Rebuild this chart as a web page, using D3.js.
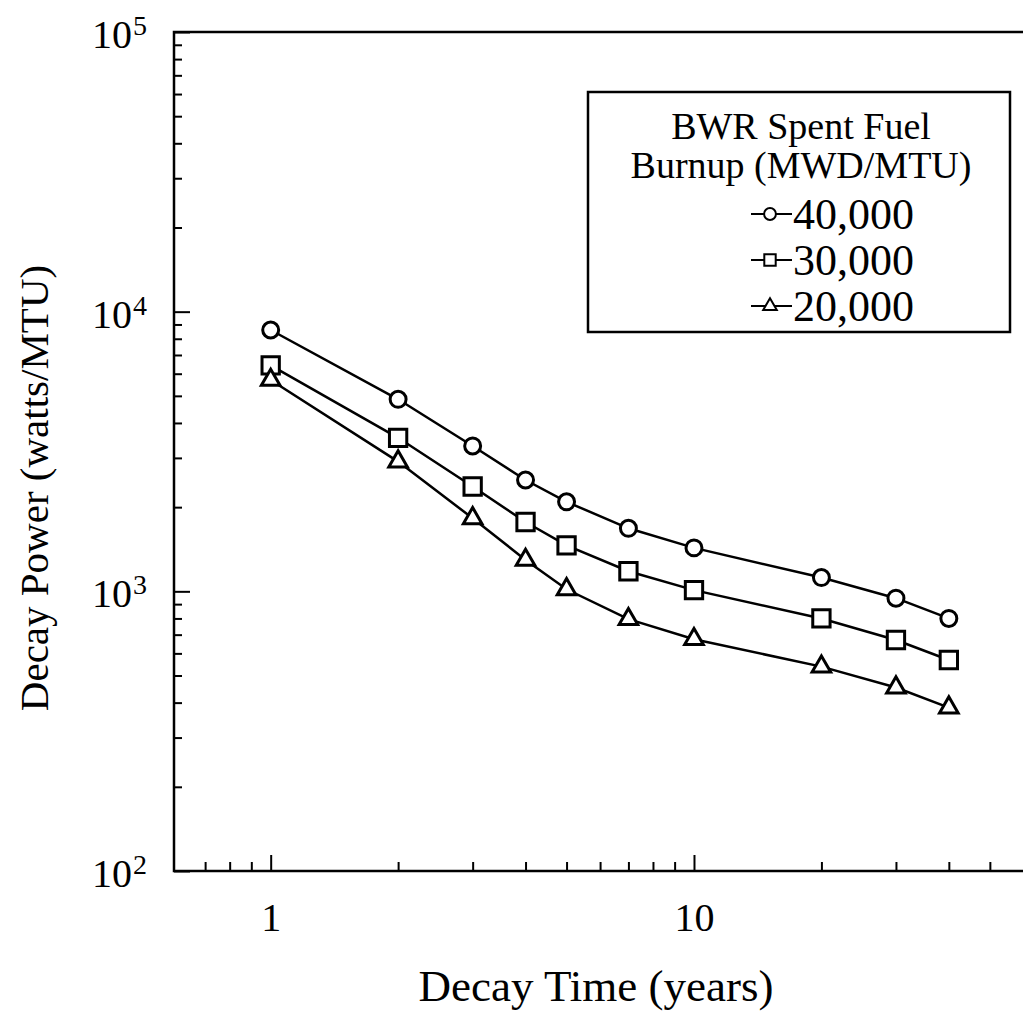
<!DOCTYPE html>
<html>
<head>
<meta charset="utf-8">
<script src="https://cdn.jsdelivr.net/npm/d3@7"></script>
<style>
  body { margin: 0; background: #fff; }
  svg { display: block; font-family: "Liberation Serif", "Times New Roman", serif; }
</style>
</head>
<body>
<svg id="chart" width="1023" height="1015"></svg>
<script>
// decay time (years)
const years = [1, 2, 3, 4, 5, 7, 10, 20, 30, 40];
// decay power (watts/MTU) per burnup level
const burnup40k = [8600, 4860, 3310, 2500, 2090, 1680, 1430, 1120, 945, 800];
const burnup30k = [6430, 3540, 2370, 1770, 1460, 1180, 1010, 800, 670, 568];
const burnup20k = [5700, 2910, 1825, 1295, 1017, 795, 674, 538, 453, 384];
const seriesNames = ['40,000', '30,000', '20,000'];

const xMajorTicks = [1, 10];
const xMinorTicks = [0.7, 0.8, 0.9, 2, 3, 4, 5, 6, 7, 8, 9, 20, 30, 40, 50];
const yMajorTicks = [100, 1000, 10000, 100000];
const yExponents = ['2', '3', '4', '5'];
const yMinorTicks = [200, 300, 400, 500, 600, 700, 800, 900,
  2000, 3000, 4000, 5000, 6000, 7000, 8000, 9000,
  20000, 30000, 40000, 50000, 60000, 70000, 80000, 90000];

const series = [
  {name: seriesNames[0], values: burnup40k, shape: d3.symbolCircle, size: 200, legendSize: 110},
  {name: seriesNames[1], values: burnup30k, shape: d3.symbolSquare, size: 300, legendSize: 130},
  {name: seriesNames[2], values: burnup20k, shape: d3.symbolTriangle, size: 150, legendSize: 80}
];

const svg = d3.select('#chart');
const margin = {top: 32, left: 174, bottom: 871, right: 1030};

const x = d3.scaleLog().domain([0.591, 62.2]).range([margin.left, margin.right]);
const y = d3.scaleLog().domain([100, 100000]).range([margin.bottom, margin.top]);

// frame (right side runs off the page like in the scan)
svg.append('rect')
  .attr('x', margin.left).attr('y', margin.top)
  .attr('width', margin.right - margin.left)
  .attr('height', margin.bottom - margin.top)
  .attr('fill', 'none').attr('stroke', '#000').attr('stroke-width', 2.5);

// x axis ticks, pointing inward
const xAxisG = svg.append('g').attr('transform', `translate(0,${margin.bottom})`);
xAxisG.append('g')
  .call(d3.axisBottom(x).tickValues(xMinorTicks).tickSize(-9).tickFormat(''))
  .call(g => g.select('.domain').remove());
xAxisG.append('g')
  .call(d3.axisBottom(x).tickValues(xMajorTicks).tickSize(-16).tickPadding(0).tickFormat(d3.format('d')))
  .call(g => g.select('.domain').remove())
  .attr('font-family', null).attr('font-size', null)
  .call(g => g.selectAll('text')
    .attr('y', 60).attr('dy', null)
    .attr('font-size', 40).attr('fill', '#000'));
xAxisG.selectAll('line').attr('stroke', '#000').attr('stroke-width', 2);

// y axis ticks, pointing inward
const yAxisG = svg.append('g').attr('transform', `translate(${margin.left},0)`);
yAxisG.append('g')
  .call(d3.axisLeft(y).tickValues(yMinorTicks).tickSize(-8).tickFormat(''))
  .call(g => g.select('.domain').remove());
yAxisG.append('g')
  .call(d3.axisLeft(y).tickValues(yMajorTicks).tickSize(-16).tickFormat(''))
  .call(g => g.select('.domain').remove());
yAxisG.selectAll('line').attr('stroke', '#000').attr('stroke-width', 2);

// y tick labels as 10 with superscript exponent
const yLabels = svg.append('g')
  .selectAll('text')
  .data(yMajorTicks)
  .join('text')
    .attr('x', 147)
    .attr('y', d => y(d) + 16)
    .attr('text-anchor', 'end')
    .attr('font-size', 40);
yLabels.append('tspan').text('10');
yLabels.append('tspan')
  .attr('font-size', 28)
  .attr('dx', 1)
  .attr('dy', -13)
  .text((d, i) => yExponents[i]);

// axis titles
svg.append('text')
  .attr('x', 596).attr('y', 1001)
  .attr('text-anchor', 'middle')
  .attr('font-size', 45)
  .text('Decay Time (years)');

svg.append('text')
  .attr('transform', 'translate(48,488) rotate(-90)')
  .attr('text-anchor', 'middle')
  .attr('font-size', 41)
  .text('Decay Power (watts/MTU)');

// data lines and markers
const line = d3.line()
  .x((d, i) => x(years[i]))
  .y(d => y(d));

const plot = svg.append('g');
plot.selectAll('path.series')
  .data(series)
  .join('path')
    .attr('class', 'series')
    .attr('fill', 'none')
    .attr('stroke', '#000')
    .attr('stroke-width', 2.5)
    .attr('d', d => line(d.values));

series.forEach(s => {
  plot.append('g')
    .selectAll('path')
    .data(s.values)
    .join('path')
      .attr('transform', (d, i) => `translate(${x(years[i])},${y(d)})`)
      .attr('d', d3.symbol(s.shape, s.size))
      .attr('fill', '#fff')
      .attr('stroke', '#000')
      .attr('stroke-width', 3);
});

// legend
const legend = svg.append('g');
legend.append('rect')
  .attr('x', 588).attr('y', 92)
  .attr('width', 422).attr('height', 240)
  .attr('fill', '#fff').attr('stroke', '#000').attr('stroke-width', 2.5);
legend.append('text')
  .attr('x', 801).attr('y', 139)
  .attr('text-anchor', 'middle').attr('font-size', 38)
  .text('BWR Spent Fuel');
legend.append('text')
  .attr('x', 801).attr('y', 178)
  .attr('text-anchor', 'middle').attr('font-size', 38)
  .text('Burnup (MWD/MTU)');

const rows = legend.selectAll('g.row')
  .data(series)
  .join('g')
    .attr('class', 'row')
    .attr('transform', (d, i) => `translate(0,${229 + i * 46})`);
rows.append('line')
  .attr('x1', 751).attr('x2', 792)
  .attr('y1', -15).attr('y2', -15)
  .attr('stroke', '#000').attr('stroke-width', 2);
rows.append('path')
  .attr('transform', 'translate(770,-15)')
  .attr('d', d => d3.symbol(d.shape, d.legendSize)())
  .attr('fill', '#fff').attr('stroke', '#000').attr('stroke-width', 2);
rows.append('text')
  .attr('x', 793).attr('y', 0)
  .attr('font-size', 44)
  .text(d => d.name);
</script>
</body>
</html>
